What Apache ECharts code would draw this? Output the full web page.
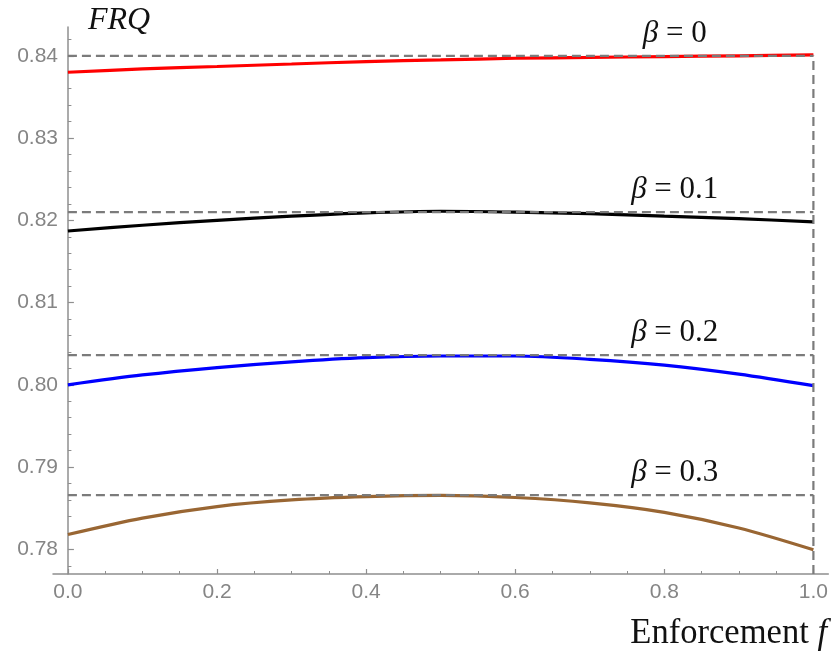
<!DOCTYPE html>
<html>
<head>
<meta charset="utf-8">
<script src="https://cdn.jsdelivr.net/npm/echarts@6/dist/echarts.min.js"></script>
<style>
html,body{margin:0;padding:0;background:#ffffff;}
#chart{width:831px;height:663px;}
</style>
</head>
<body>
<div id="chart"></div>
<script>
// ---- data ----
const fValues = [0.0, 0.1, 0.2, 0.3, 0.4, 0.5, 0.6, 0.7, 0.8, 0.9, 1.0];
const frqBeta0  = [0.8380, 0.8384, 0.8387, 0.8390, 0.8393, 0.8395, 0.8397, 0.8398, 0.8399, 0.8400, 0.8401];
const frqBeta01 = [0.8187, 0.8194, 0.8200, 0.8205, 0.8209, 0.8211, 0.8210, 0.8208, 0.8205, 0.8202, 0.8198];
const frqBeta02 = [0.8000, 0.8012, 0.8021, 0.8028, 0.8033, 0.8035, 0.8035, 0.8031, 0.8024, 0.8013, 0.7999];
const frqBeta03 = [0.7818, 0.7838, 0.7852, 0.7860, 0.7864, 0.78655, 0.7863, 0.78565, 0.7845, 0.7826, 0.77995];
const betaLabels = ['0', '0.1', '0.2', '0.3'];
const maxValues  = [0.8400, 0.8210, 0.8036, 0.7866];
const xTickLabels = [0, 0.2, 0.4, 0.6, 0.8, 1.0];
const xMinorTicks = [0.05, 0.1, 0.15, 0.25, 0.3, 0.35, 0.45, 0.5, 0.55, 0.65, 0.7, 0.75, 0.85, 0.9, 0.95];
const yTickLabels = [0.78, 0.79, 0.80, 0.81, 0.82, 0.83, 0.84];
const yMinorTicks = [0.778, 0.782, 0.784, 0.786, 0.788, 0.792, 0.794, 0.796, 0.798,
                     0.802, 0.804, 0.806, 0.808, 0.812, 0.814, 0.816, 0.818,
                     0.822, 0.824, 0.826, 0.828, 0.832, 0.834, 0.836, 0.838, 0.842];
const xRange = [-0.02, 1.02];
const yRange = [0.777, 0.8435];
const labelX = 0.814;

// ---- styling ----
const curveColors = ['#ff0000', '#000000', '#0000ff', '#996633'];
const axisGray = '#8f8f8f';
const labelGray = '#858585';
const serif = '"Liberation Serif", "DejaVu Serif", serif';
const sans = '"Liberation Sans", Arial, sans-serif';

const curves = [frqBeta0, frqBeta01, frqBeta02, frqBeta03];

const series = [];
curves.forEach(function (vals, i) {
  series.push({
    type: 'line',
    data: fValues.map(function (f, k) { return [f, vals[k]]; }),
    smooth: 0.3,
    symbol: 'none',
    lineStyle: { color: curveColors[i], width: 3.2 },
    z: 3,
    silent: true
  });
});
const dashStyle = { color: '#7b7b7b', width: 2.2, type: [9, 5] };
maxValues.forEach(function (m, i) {
  series.push({
    type: 'line',
    data: [[fValues[0], m], [fValues[fValues.length - 1], m]],
    symbol: 'none',
    lineStyle: dashStyle,
    z: 4,
    silent: true,
    markPoint: {
      symbol: 'circle',
      symbolSize: 0,
      silent: true,
      data: [{ coord: [labelX, m] }],
      label: {
        show: true,
        position: 'inside',
        offset: [0, -22],
        formatter: '{b|β} = ' + betaLabels[i],
        fontFamily: serif,
        fontSize: 31,
        color: '#111111',
        rich: {
          b: { fontFamily: serif, fontStyle: 'italic', fontSize: 31, color: '#111111' }
        }
      }
    }
  });
});
// vertical dashed line at f = 1
series.push({
  type: 'line',
  data: [[fValues[fValues.length - 1], yRange[0]], [fValues[fValues.length - 1], maxValues[0]]],
  symbol: 'none',
  lineStyle: dashStyle,
  z: 4,
  silent: true
});

const option = {
  animation: false,
  backgroundColor: '#ffffff',
  grid: { left: 53, right: 1, top: 27, bottom: 89, containLabel: false },
  xAxis: [
    {
      type: 'value', min: xRange[0], max: xRange[1], position: 'bottom',
      axisLine: { show: true, lineStyle: { color: axisGray, width: 1.5 } },
      axisTick: { show: true, inside: true, length: 5, customValues: xTickLabels, lineStyle: { color: axisGray, width: 1.2 } },
      axisLabel: { show: true, customValues: xTickLabels, margin: 8, color: labelGray, fontFamily: sans, fontSize: 21,
                   formatter: function (v) { return v.toFixed(1); } },
      splitLine: { show: false }
    },
    {
      type: 'value', min: xRange[0], max: xRange[1], position: 'bottom',
      axisLine: { show: false },
      axisTick: { show: true, inside: true, length: 3, customValues: xMinorTicks, lineStyle: { color: axisGray, width: 1 } },
      axisLabel: { show: false },
      splitLine: { show: false }
    }
  ],
  yAxis: [
    {
      type: 'value', min: yRange[0], max: yRange[1], position: 'left',
      axisLine: { show: true, onZero: true, lineStyle: { color: axisGray, width: 1.5 } },
      axisTick: { show: true, inside: true, length: 6, customValues: yTickLabels, lineStyle: { color: axisGray, width: 1.2 } },
      axisLabel: { show: true, customValues: yTickLabels, margin: -5, color: labelGray, fontFamily: sans, fontSize: 21,
                   formatter: function (v) { return v.toFixed(2); } },
      splitLine: { show: false }
    },
    {
      type: 'value', min: yRange[0], max: yRange[1], position: 'left',
      axisLine: { show: false, onZero: true },
      axisTick: { show: true, inside: true, length: 3.5, customValues: yMinorTicks, lineStyle: { color: axisGray, width: 1 } },
      axisLabel: { show: false },
      splitLine: { show: false }
    }
  ],
  graphic: [
    { type: 'text', left: 88, top: 5, style: { text: 'FRQ', font: 'italic 32px ' + serif, fill: '#111111' } },
    { type: 'text', right: 4, top: 616, scaleX: 0.96,
      style: {
        text: '{n|Enforcement }{f|f}',
        rich: {
          n: { font: '36px ' + serif, fill: '#111111' },
          f: { font: 'italic 36px ' + serif, fill: '#111111' }
        }
      }
    }
  ],
  series: series
};

const chart = echarts.init(document.getElementById('chart'), null, { renderer: 'canvas' });
chart.setOption(option);
</script>
</body>
</html>
